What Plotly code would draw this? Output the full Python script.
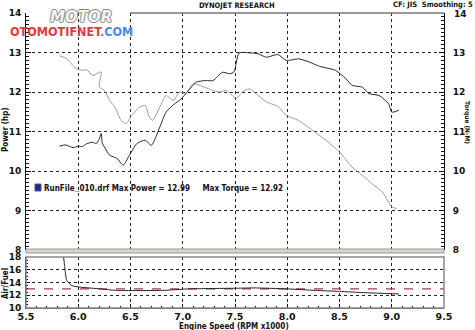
import plotly.graph_objects as go

# ---------------- data ----------------
power_rpm = [5.82, 5.88, 5.95, 6.00, 6.04, 6.08, 6.14, 6.17, 6.20, 6.22, 6.23, 6.25, 6.30, 6.37, 6.43,
             6.49, 6.56, 6.64, 6.70, 6.78, 6.84, 6.92, 6.97, 7.03, 7.13, 7.22, 7.29, 7.38, 7.45, 7.49,
             7.54, 7.64, 7.72, 7.80, 7.91, 7.99, 8.11, 8.21, 8.31, 8.46, 8.56, 8.62, 8.72, 8.78, 8.88,
             8.97, 9.00, 9.07]
power = [10.63, 10.66, 10.59, 10.63, 10.62, 10.69, 10.73, 10.69, 10.80, 10.95, 10.70, 10.61, 10.40, 10.32, 10.15,
         10.40, 10.69, 10.78, 10.65, 11.11, 11.49, 11.70, 11.79, 11.96, 12.25, 12.29, 12.29, 12.50, 12.46, 12.51,
         12.99, 12.99, 12.97, 12.88, 12.95, 12.80, 12.84, 12.76, 12.65, 12.55, 12.34, 12.17, 12.12, 11.96, 11.91,
         11.70, 11.49, 11.54]

torque_rpm = [5.82, 5.89, 5.98, 6.05, 6.08, 6.14, 6.19, 6.22, 6.20, 6.25, 6.30, 6.35, 6.41, 6.46, 6.51,
              6.59, 6.64, 6.68, 6.71, 6.78, 6.84, 6.91, 6.97, 7.03, 7.10, 7.16, 7.29, 7.35, 7.42, 7.51,
              7.57, 7.64, 7.70, 7.80, 7.89, 7.92, 7.99, 8.11, 8.24, 8.37, 8.50, 8.62, 8.72, 8.81, 8.91,
              9.00, 9.05]
torque = [12.92, 12.84, 12.59, 12.55, 12.56, 12.42, 12.48, 12.51, 12.13, 12.04, 11.79, 11.62, 11.28, 11.20, 11.41,
          11.62, 11.66, 11.37, 11.28, 11.62, 11.91, 11.79, 12.00, 11.96, 12.21, 12.17, 12.04, 12.00, 12.04, 11.83,
          12.00, 12.08, 11.96, 11.75, 11.66, 11.62, 11.41, 11.28, 11.03, 10.78, 10.48, 10.10, 9.89, 9.68, 9.47,
          9.09, 9.05]

afr_rpm = [5.86, 5.87, 5.89, 5.94, 6.02, 6.21, 6.37, 6.80, 7.06, 7.50, 7.68, 8.00, 8.27, 8.50, 8.75, 9.07]
afr = [18.0, 16.5, 14.3, 13.5, 13.27, 13.0, 12.76, 12.76, 13.0, 13.1, 13.15, 13.0, 12.76, 12.6, 12.4, 12.2]

afr_target_rpm = [5.5, 9.5]
afr_target = [13.0, 13.0]

x_ticks = [5.5, 6.0, 6.5, 7.0, 7.5, 8.0, 8.5, 9.0, 9.5]
x_tick_text = ["5.5", "6.0", "6.5", "7.0", "7.5", "8.0", "8.5", "9.0", "9.5"]
main_ticks = [8, 9, 10, 11, 12, 13, 14]
main_tick_text = ["8", "9", "10", "11", "12", "13", "14"]
afr_ticks = [10, 12, 14, 16, 18]

title_text = "DYNOJET RESEARCH"
info_text = "CF: JIS&nbsp;&nbsp;Smoothing: 5"
legend_text = ("RunFile<span style='font-family:Liberation Sans;font-size:9px'>_</span>010.drf Max Power = 12.99"
               "&nbsp;&nbsp;&nbsp;&nbsp;&nbsp;Max Torque = 12.92")

# ---------------- figure ----------------
FONT = "Verdana, DejaVu Sans, sans-serif"
CFONT = "DejaVu Sans Condensed, DejaVu Sans, sans-serif"
W, H = 475, 330
ML, MR, MT, MB = 26, 31, 13, 22
PW, PH = W - ML - MR, H - MT - MB


def px(xp):
    return (xp - ML) / PW


def py(yp):
    return (H - MB - yp) / PH


fig = go.Figure()

fig.add_trace(go.Scatter(x=torque_rpm, y=torque, mode="lines",
                         line=dict(color="#9a9ab4", width=1, shape="spline", smoothing=0.6),
                         xaxis="x", yaxis="y", showlegend=False))
fig.add_trace(go.Scatter(x=power_rpm, y=power, mode="lines",
                         line=dict(color="#2a2a2a", width=1, shape="spline", smoothing=0.6),
                         xaxis="x", yaxis="y", showlegend=False))
fig.add_trace(go.Scatter(x=afr_target_rpm, y=afr_target, mode="lines",
                         line=dict(color="#a83a4c", width=1.2, dash="dash"),
                         xaxis="x2", yaxis="y3", showlegend=False))
fig.add_trace(go.Scatter(x=afr_rpm, y=afr, mode="lines",
                         line=dict(color="#222222", width=1, shape="spline", smoothing=0.5),
                         xaxis="x2", yaxis="y3", showlegend=False))
fig.add_trace(go.Scatter(x=[5.5], y=[8], mode="markers", marker=dict(opacity=0),
                         xaxis="x", yaxis="y2", showlegend=False, hoverinfo="skip"))

grid = dict(showgrid=True, gridcolor="#222222", griddash="dot", gridwidth=1)
tickf = dict(family=FONT, size=9, color="#111111", weight="bold")


def tf(size):
    return dict(family=CFONT, size=size, color="#111111", weight="bold")


main_dom = [py(250), 1]
afr_dom = [0, py(257)]

fig.update_layout(
    width=W, height=H,
    margin=dict(l=ML, r=MR, t=MT, b=MB, autoexpand=False),
    paper_bgcolor="white", plot_bgcolor="white",
    xaxis=dict(range=[5.5, 9.5], domain=[0, 1], anchor="y", tickvals=x_ticks,
               showticklabels=False, ticks="", showline=False,
               zeroline=False, automargin=False, **grid),
    yaxis=dict(range=[8, 14], domain=main_dom, anchor="x", tickvals=main_ticks,
               ticks="inside", ticklen=5, tickcolor="#111", showline=True, linecolor="#111",
               linewidth=1, zeroline=False, tickfont=tickf, automargin=False, ticklabelstandoff=2,
               ticklabeloverflow="allow",
               minor=dict(dtick=0.1, ticks="inside", ticklen=3, tickcolor="#111", showgrid=False),
               **grid),
    yaxis2=dict(range=[8, 14], overlaying="y", side="right", anchor="x",
                tickvals=main_ticks[:-1], ticktext=main_tick_text[:-1],
                ticks="inside", ticklen=5, tickcolor="#111", showline=True, linecolor="#111",
                linewidth=1, zeroline=False, tickfont=tickf, showgrid=False, automargin=False,
                ticklabelstandoff=6, ticklabeloverflow="allow",
                minor=dict(dtick=0.1, ticks="inside", ticklen=3, tickcolor="#111")),
    xaxis2=dict(range=[5.5, 9.5], domain=[0, 1], anchor="y3", tickvals=x_ticks, ticktext=x_tick_text,
                ticks="inside", ticklen=4, tickcolor="#111", showline=True, linecolor="#555",
                linewidth=1, zeroline=False,
                tickfont=dict(family=FONT, size=9.5, color="#111", weight="bold"),
                automargin=False, ticklabelstandoff=0, ticklabeloverflow="allow",
                minor=dict(dtick=0.1, ticks="inside", ticklen=2, tickcolor="#111", showgrid=False),
                **grid),
    yaxis3=dict(range=[10, 18], domain=afr_dom, anchor="x2", tickvals=afr_ticks,
                ticks="inside", ticklen=4, tickcolor="#111", showline=True, linecolor="#111",
                linewidth=1, zeroline=False, tickfont=tickf, automargin=False, ticklabelstandoff=2,
                ticklabeloverflow="allow",
                minor=dict(dtick=0.5, ticks="inside", ticklen=2, tickcolor="#111", showgrid=False),
                **grid),
)

# top right-axis label placed just below the header line
fig.add_annotation(xref="paper", yref="paper", x=px(452), y=py(14), xanchor="left",
                   yanchor="middle", text=main_tick_text[-1], showarrow=False, font=tickf)

# frames (grey borders)
fig.add_shape(type="line", xref="paper", yref="paper", x0=px(130), x1=1, y0=1, y1=1,
              line=dict(color="#777777", width=1.5))
fig.add_shape(type="rect", xref="paper", yref="paper", x0=px(26), x1=px(444), y0=py(253), y1=py(249),
              fillcolor="#d6d6cf", line=dict(color="#999999", width=1))
fig.add_shape(type="rect", xref="paper", yref="paper", x0=0, x1=1, y0=0, y1=py(257),
              line=dict(color="#888888", width=1.5))

# axis titles
fig.add_annotation(xref="paper", yref="paper", x=px(5), y=py(130), xanchor="center", yanchor="middle",
                   text="Power (hp)", textangle=-90, showarrow=False, font=tf(8))
fig.add_annotation(xref="paper", yref="paper", x=px(467), y=py(122), xanchor="center", yanchor="middle",
                   text="Torque (N-M)", textangle=90, showarrow=False, font=tf(6.5))
fig.add_annotation(xref="paper", yref="paper", x=px(5), y=py(284), xanchor="center", yanchor="middle",
                   text="Air/Fuel", textangle=-90, showarrow=False, font=tf(8))
fig.add_annotation(xref="paper", yref="paper", x=px(234), y=py(326), xanchor="center", yanchor="middle",
                   text="Engine Speed (RPM x1000)", showarrow=False, font=tf(8))

# legend square + text
fig.add_shape(type="rect", xref="paper", yref="paper", x0=px(35), x1=px(41), y0=py(191), y1=py(184),
              fillcolor="#2424a8", line=dict(color="#555", width=1))
fig.add_annotation(xref="paper", yref="paper", x=px(42), y=py(188), xanchor="left", yanchor="middle",
                   text=legend_text, showarrow=False, font=tf(8))

# header texts
fig.add_annotation(xref="paper", yref="paper", x=px(237), y=py(6), xanchor="center", yanchor="middle",
                   text=title_text, showarrow=False, font=tf(7.5))
fig.add_annotation(xref="paper", yref="paper", x=px(475), y=py(4), xanchor="right", yanchor="middle",
                   text=info_text, showarrow=False, font=tf(7.5))

# watermark logo
fig.add_annotation(xref="paper", yref="paper", x=px(48), y=py(17), xanchor="left", yanchor="middle",
                   text="<i>MOTOR</i>", showarrow=False,
                   font=dict(family=FONT, size=15, color="#f4f4f4", weight="bold",
                             shadow="1px 0 #888, -1px 0 #888, 0 1px #888, 0 -1px #888"))
fig.add_annotation(xref="paper", yref="paper", x=px(8), y=py(31), xanchor="left", yanchor="middle",
                   text="<span style='color:#e23a3a'>OTOMOTIFNET</span><span style='color:#4a8ae8'>.COM</span>",
                   showarrow=False, font=dict(family=CFONT, size=12.5, weight="bold"))

fig.write_html("out.html")
